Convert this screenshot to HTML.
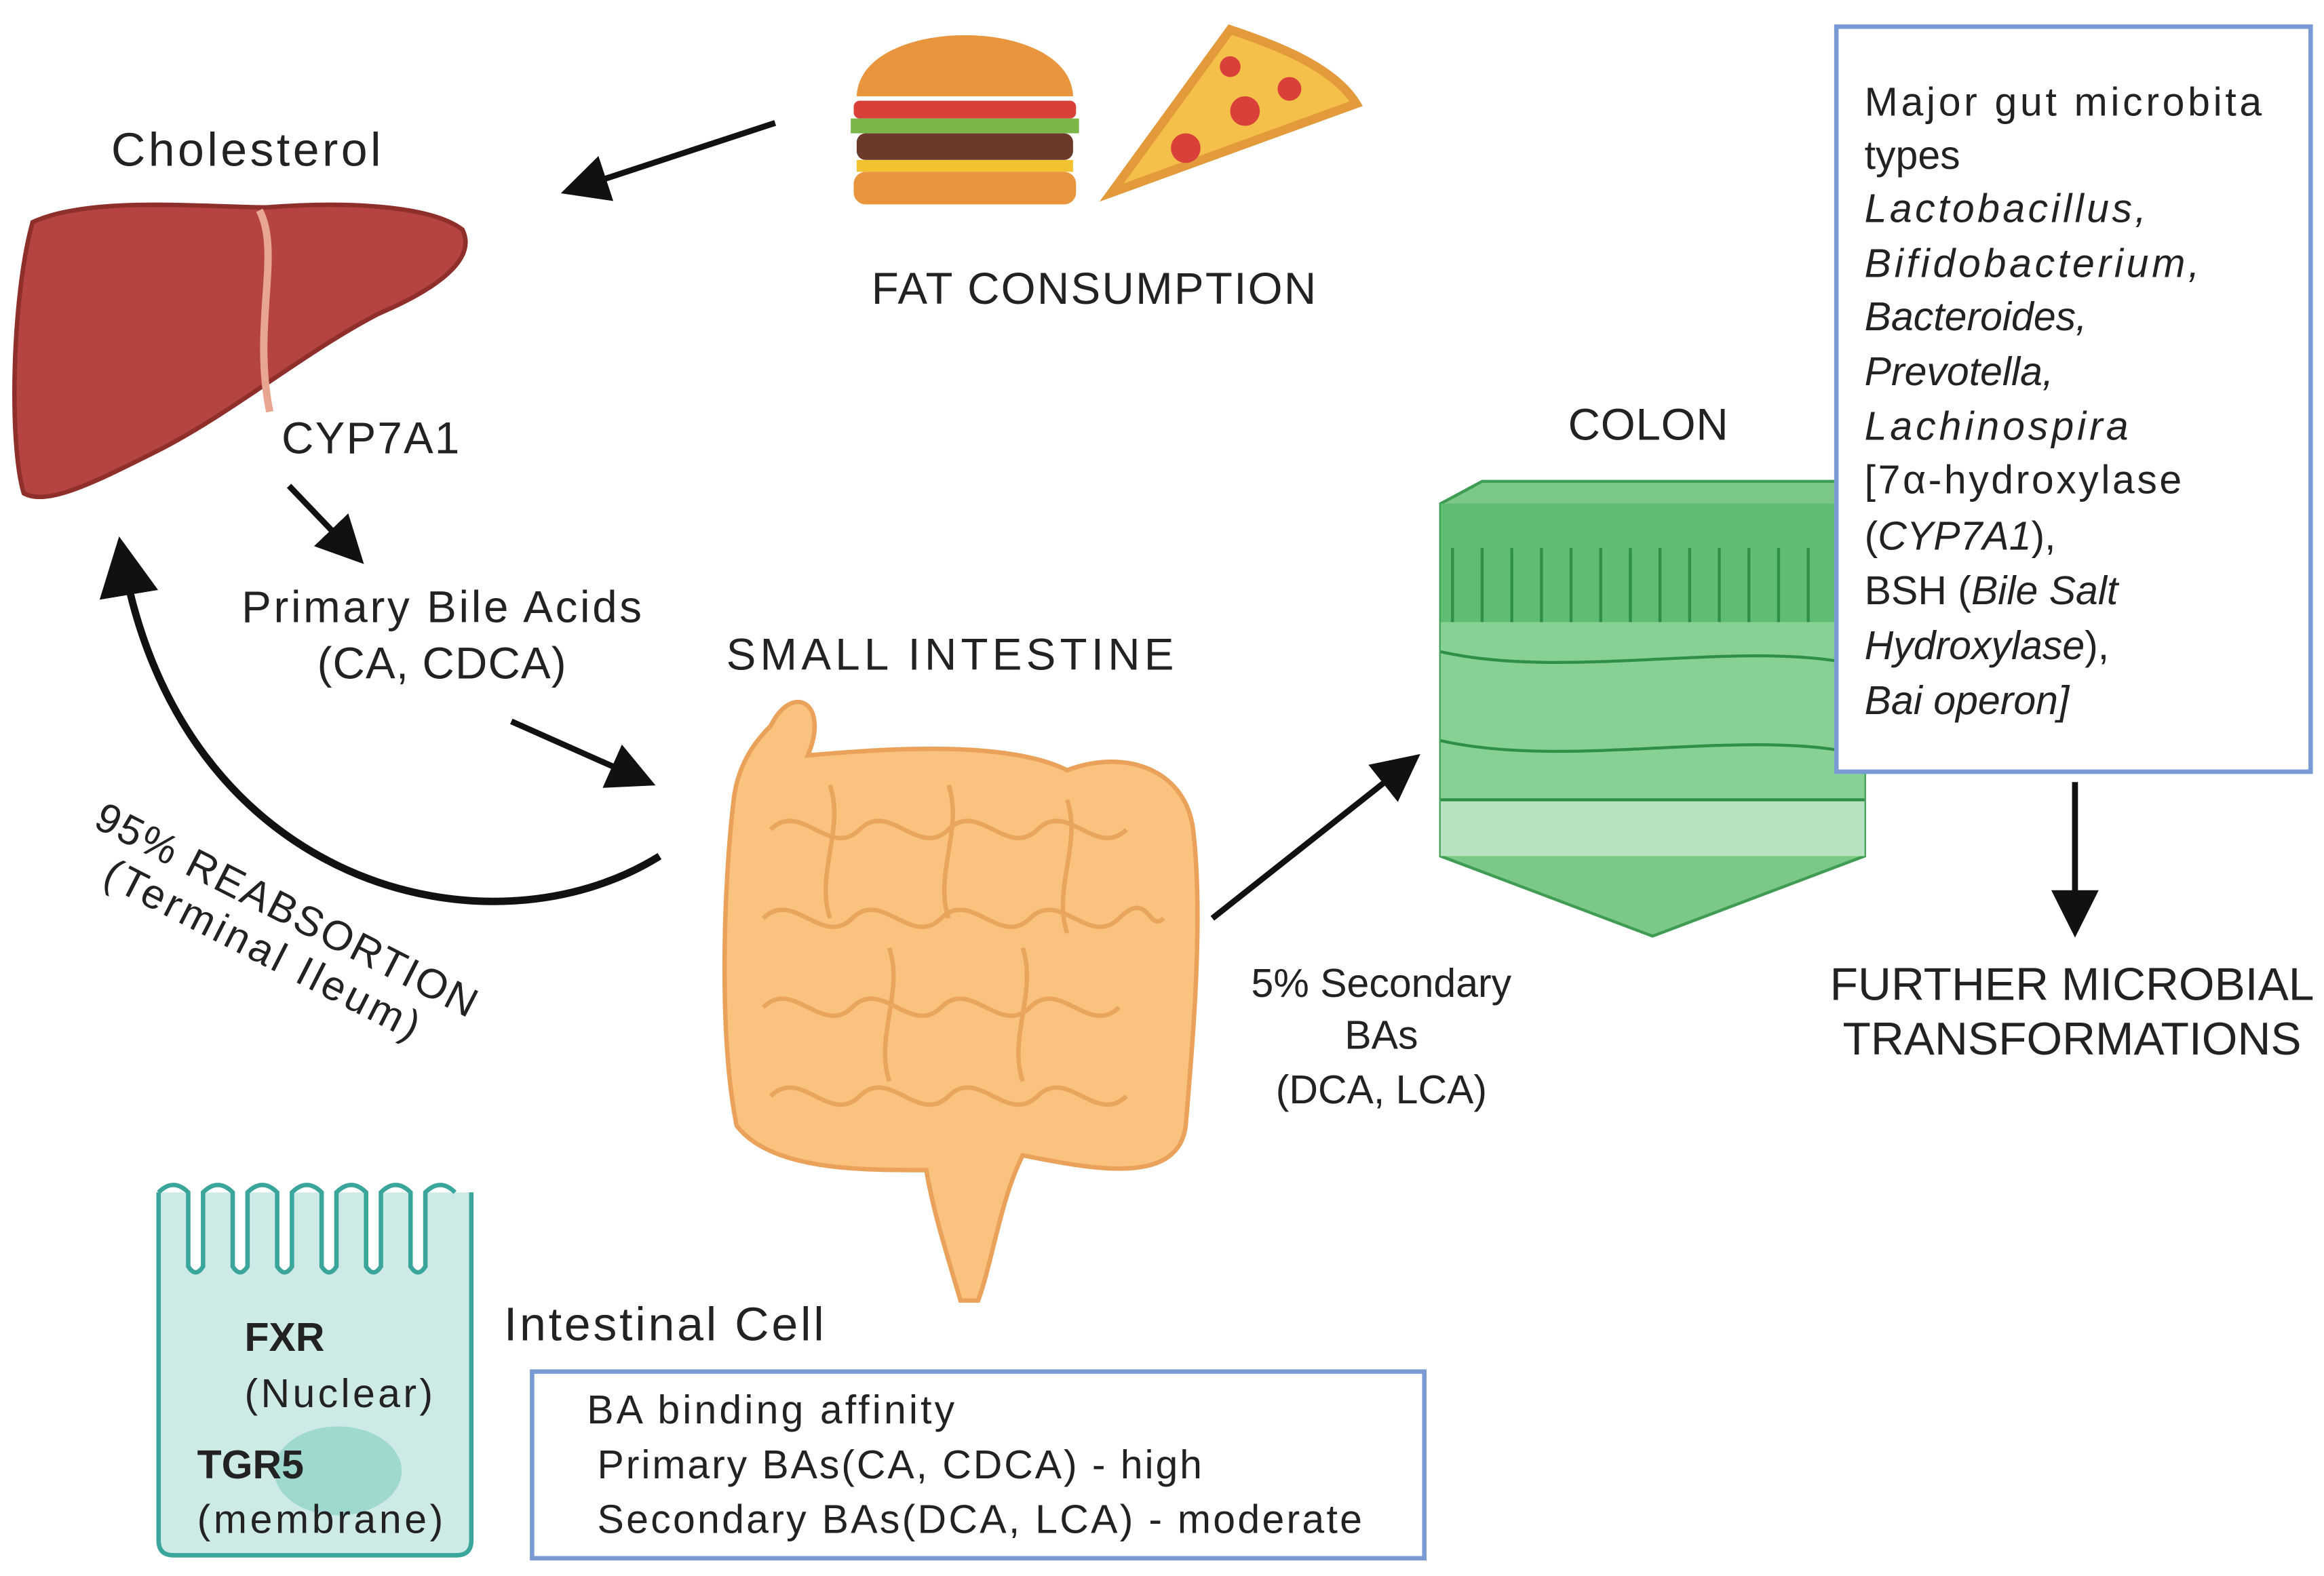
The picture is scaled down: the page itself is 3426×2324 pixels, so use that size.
<!DOCTYPE html>
<html><head><meta charset="utf-8"><style>
html,body{margin:0;padding:0;background:#fff;}
svg{display:block;}
text{font-family:"Liberation Sans",sans-serif;fill:#222;}
</style></head><body>
<svg width="3426" height="2324" viewBox="0 0 1568 1064" preserveAspectRatio="none" xmlns="http://www.w3.org/2000/svg">
<defs>
<marker id="ah" markerWidth="8" markerHeight="8" refX="6" refY="4" orient="auto" markerUnits="strokeWidth">
<path d="M0,0 L8,4 L0,8 z" fill="#111"/></marker>
</defs>
<!-- Liver -->
<path d="M22,150 C60,132 140,140 180,140 C230,136 290,138 312,155 C322,175 295,195 255,212 C205,238 155,280 105,305 C65,325 32,342 16,333 C6,300 8,200 22,150 Z" fill="#b5433f" stroke="#8e2f2c" stroke-width="3"/>
<path d="M175,142 C190,170 170,220 182,278" stroke="#e8a58f" stroke-width="5" fill="none"/>
<text x="75" y="112" font-size="32" textLength="182">Cholesterol</text>
<text x="190" y="306" font-size="30" textLength="120">CYP7A1</text>
<!-- fat arrow -->
<line x1="523" y1="83" x2="386" y2="128" stroke="#111" stroke-width="4" marker-end="url(#ah)"/>
<!-- burger -->
<path d="M578,65 C580,10 722,10 724,65 Z" fill="#e8953e"/>
<rect x="576" y="68" width="150" height="12" rx="4" fill="#d9403a"/>
<rect x="574" y="80" width="154" height="10" fill="#7ab648"/>
<rect x="578" y="90" width="146" height="18" rx="6" fill="#6b3a2a"/>
<rect x="578" y="108" width="146" height="8" fill="#f2c230"/>
<rect x="576" y="116" width="150" height="22" rx="8" fill="#e8953e"/>
<!-- pizza -->
<path d="M750,130 L830,20 C860,30 900,45 915,70 Z" fill="#f4c04a" stroke="#e39a3a" stroke-width="6"/>
<circle cx="800" cy="100" r="10" fill="#d9403a"/><circle cx="840" cy="75" r="10" fill="#d9403a"/><circle cx="870" cy="60" r="8" fill="#d9403a"/><circle cx="830" cy="45" r="7" fill="#d9403a"/>
<text x="588" y="205" font-size="30" textLength="300">FAT CONSUMPTION</text>
<!-- arrows -->
<line x1="195" y1="328" x2="240" y2="375" stroke="#111" stroke-width="4" marker-end="url(#ah)"/>
<text x="163" y="420" font-size="30" textLength="270">Primary Bile Acids</text>
<text x="214" y="458" font-size="30" textLength="168">(CA, CDCA)</text>
<line x1="345" y1="487" x2="435" y2="527" stroke="#111" stroke-width="4" marker-end="url(#ah)"/>
<text x="490" y="452" font-size="30" textLength="302">SMALL INTESTINE</text>
<path d="M445,578 C330,650 120,600 82,372" stroke="#111" stroke-width="5" fill="none" marker-end="url(#ah)"/>
<g transform="translate(62,558) rotate(27)"><text font-size="28" textLength="285">95% REABSORTION</text></g>
<g transform="translate(68,596) rotate(27)"><text font-size="28" textLength="235">(Terminal Ileum)</text></g>
<!-- intestine -->
<path d="M520,490 C535,460 560,475 545,510 C600,505 680,500 720,520 C760,505 800,520 805,560 C812,620 805,700 800,760 C795,800 740,790 690,780 C675,810 670,850 660,878 L648,878 C640,850 630,820 625,790 C580,790 520,790 497,760 C485,700 488,600 495,540 C498,515 510,500 520,490 Z" fill="#f9c37f" stroke="#eaa25a" stroke-width="3"/>
<g stroke="#e9a55c" stroke-width="3" fill="none">
<path d="M520,560 c20,-20 40,20 60,0 s40,20 60,0 s40,20 60,0 s40,20 60,0"/>
<path d="M515,620 c20,-20 40,20 60,0 s40,20 60,0 s40,20 60,0 s40,20 60,0 s20,10 30,0"/>
<path d="M515,680 c20,-20 40,20 60,0 s40,20 60,0 s40,20 60,0 s40,20 60,0"/>
<path d="M520,740 c20,-20 40,20 60,0 s40,20 60,0 s40,20 60,0 s40,20 60,0"/>
<path d="M560,530 c10,30 -10,60 0,90 M640,530 c10,30 -10,60 0,90 M720,540 c10,30 -10,60 0,90 M600,640 c10,30 -10,60 0,90 M690,640 c10,30 -10,60 0,90"/>
</g>
<line x1="818" y1="620" x2="952" y2="514" stroke="#111" stroke-width="4" marker-end="url(#ah)"/>
<text x="932" y="673" font-size="27" text-anchor="middle">5% Secondary</text>
<text x="932" y="708" font-size="27" text-anchor="middle">BAs</text>
<text x="932" y="745" font-size="27" text-anchor="middle">(DCA, LCA)</text>
<!-- colon -->
<text x="1058" y="297" font-size="30" textLength="108">COLON</text>
<path d="M972,340 L1000,325 L1240,325 L1258,340 L1258,578 L1115,632 L972,578 Z" fill="#7cc987" stroke="#3e9d52" stroke-width="2"/>
<rect x="972" y="340" width="286" height="80" fill="#5fbd72"/>
<rect x="972" y="420" width="286" height="120" fill="#86d193"/>
<rect x="972" y="540" width="286" height="38" fill="#b7e3c0"/>
<g stroke="#2f8f45" stroke-width="2" fill="none">
<path d="M980,420 v-50 M1000,420 v-50 M1020,420 v-50 M1040,420 v-50 M1060,420 v-50 M1080,420 v-50 M1100,420 v-50 M1120,420 v-50 M1140,420 v-50 M1160,420 v-50 M1180,420 v-50 M1200,420 v-50 M1220,420 v-50 M1240,420 v-50"/>
<path d="M972,440 C1060,460 1180,430 1258,450 M972,500 C1060,520 1180,490 1258,510 M972,540 H1258"/>
</g>
<!-- microbiota box -->
<rect x="1239" y="18" width="320" height="503" fill="#fff" stroke="#7a9ad6" stroke-width="3"/>
<g font-size="27">
<text x="1258" y="78" textLength="268">Major gut microbita</text>
<text x="1258" y="114">types</text>
<text x="1258" y="150" font-style="italic" textLength="190">Lactobacillus,</text>
<text x="1258" y="187" font-style="italic" textLength="226">Bifidobacterium,</text>
<text x="1258" y="223" font-style="italic">Bacteroides,</text>
<text x="1258" y="260" font-style="italic">Prevotella,</text>
<text x="1258" y="297" font-style="italic" textLength="178">Lachinospira</text>
<text x="1258" y="333" textLength="214">[7α-hydroxylase</text>
<text x="1258" y="371">(<tspan font-style="italic">CYP7A1</tspan>),</text>
<text x="1258" y="408">BSH (<tspan font-style="italic">Bile Salt</tspan></text>
<text x="1258" y="445" font-style="italic">Hydroxylase<tspan font-style="normal">),</tspan></text>
<text x="1258" y="482" font-style="italic">Bai operon]</text>
</g>
<line x1="1400" y1="528" x2="1400" y2="625" stroke="#111" stroke-width="4" marker-end="url(#ah)"/>
<text x="1398" y="675" font-size="31" text-anchor="middle">FURTHER MICROBIAL</text>
<text x="1398" y="712" font-size="31" text-anchor="middle">TRANSFORMATIONS</text>
<!-- cell -->
<path d="M107,805 L107,1040 Q107,1050 117,1050 L308,1050 Q318,1050 318,1040 L318,805" fill="#cdeae6" stroke="#3aa59a" stroke-width="3"/>
<path d="M107,805 q10,-10 20,0 v50 q5,8 10,0 v-50 q10,-10 20,0 v50 q5,8 10,0 v-50 q10,-10 20,0 v50 q5,8 10,0 v-50 q10,-10 20,0 v50 q5,8 10,0 v-50 q10,-10 20,0 v50 q5,8 10,0 v-50 q10,-10 20,0 v50 q5,8 10,0 v-50 q10,-10 20,0" fill="#fff" stroke="#3aa59a" stroke-width="3"/>
<ellipse cx="228" cy="993" rx="43" ry="30" fill="#9fd8cf"/>
<text x="165" y="912" font-size="27" font-weight="bold">FXR</text>
<text x="165" y="950" font-size="27" textLength="127">(Nuclear)</text>
<text x="133" y="998" font-size="27" font-weight="bold">TGR5</text>
<text x="133" y="1035" font-size="27" textLength="166">(membrane)</text>
<text x="340" y="905" font-size="32" textLength="216">Intestinal Cell</text>
<rect x="359" y="926" width="602" height="126" fill="#fff" stroke="#7a9ad6" stroke-width="3"/>
<text x="396" y="961" font-size="27" textLength="248">BA binding affinity</text>
<text x="403" y="998" font-size="27" textLength="408">Primary BAs(CA, CDCA) - high</text>
<text x="403" y="1035" font-size="27" textLength="516">Secondary BAs(DCA, LCA) - moderate</text>
</svg>
</body></html>
